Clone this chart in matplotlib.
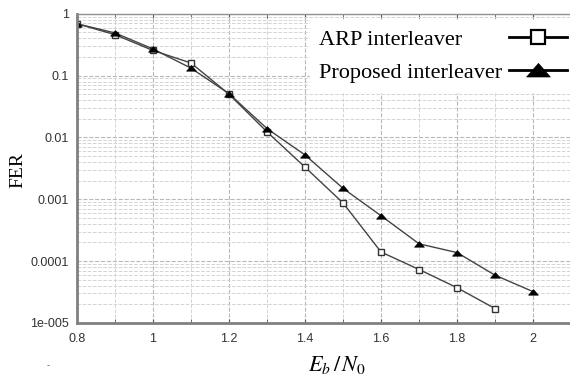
import matplotlib.pyplot as plt
from matplotlib.ticker import FixedLocator, MultipleLocator, LogLocator, NullFormatter

# Eb/N0 values and frame error rates
ebn0_arp = [0.8, 0.9, 1.0, 1.1, 1.2, 1.3, 1.4, 1.5, 1.6, 1.7, 1.8, 1.9]
fer_arp = [0.69, 0.46, 0.255, 0.16, 0.050, 0.0123, 0.0033, 0.00087,
           0.00014, 7.3e-5, 3.7e-5, 1.7e-5]

ebn0_prop = [0.8, 0.9, 1.0, 1.1, 1.2, 1.3, 1.4, 1.5, 1.6, 1.7, 1.8, 1.9, 2.0]
fer_prop = [0.69, 0.49, 0.27, 0.132, 0.051, 0.0139, 0.0052, 0.0015,
            0.00054, 0.00019, 0.000137, 5.9e-5, 3.2e-5]

ytick_vals = [1, 0.1, 0.01, 0.001, 0.0001, 1e-5]
ytick_labels = ["1", "0.1", "0.01", "0.001", "0.0001", "1e-005"]
xtick_vals = [0.8, 1.0, 1.2, 1.4, 1.6, 1.8, 2.0]
xtick_labels = ["0.8", "1", "1.2", "1.4", "1.6", "1.8", "2"]

plt.rcParams['mathtext.fontset'] = 'stix'

# slightly flattened triangle, like the original
flat_tri = [(-1, -0.55), (1, -0.55), (0, 0.6), (-1, -0.55)]

fig = plt.figure(figsize=(5.7, 3.83), dpi=100)
ax = fig.add_axes([0.135, 0.157, 0.867, 0.807])

ax.plot(ebn0_arp, fer_arp, color="#444444", lw=1, marker="s", ms=5,
        mfc="white", mec="#333333", mew=1, label="ARP interleaver")
ax.plot(ebn0_prop, fer_prop, color="#444444", lw=1, marker=flat_tri, ms=7,
        mfc="black", mec="black", mew=0.5, label="Proposed interleaver")

ax.set_yscale("log")
ax.set_xlim(0.8, 2.1)
ax.set_ylim(1e-5, 1)

ax.yaxis.set_major_locator(FixedLocator(ytick_vals))
ax.set_yticklabels(ytick_labels)
ax.yaxis.set_minor_locator(LogLocator(base=10, subs=range(2, 10)))
ax.yaxis.set_minor_formatter(NullFormatter())
ax.set_xticks(xtick_vals)
ax.set_xticklabels(xtick_labels)
ax.xaxis.set_minor_locator(MultipleLocator(0.1))

ax.tick_params(which="both", direction="in", top=True, right=False,
               labelsize=9, labelcolor="#333333", color="#555555")
ax.tick_params(which="major", length=3)
ax.tick_params(which="minor", length=3)
ax.tick_params(axis="y", which="both", length=0, pad=6)
ax.tick_params(axis="x", pad=7)
for lbl in ax.get_xticklabels() + ax.get_yticklabels():
    lbl.set_family("Liberation Sans")

ax.grid(which="major", ls="--", color="#b8b8b8", lw=0.8)
ax.grid(which="minor", ls="--", color="#d4d4d4", lw=0.7)

ax.spines["left"].set_color("#808080")
ax.spines["left"].set_linewidth(2)
ax.spines["bottom"].set_color("#808080")
ax.spines["bottom"].set_linewidth(2)
ax.spines["top"].set_color("#909090")
ax.spines["top"].set_linewidth(1)
ax.spines["right"].set_visible(False)

leg = ax.legend(loc="upper right", bbox_to_anchor=(1.023, 1.0), markerfirst=False,
                prop={"family": "Liberation Serif", "size": 16}, frameon=True,
                fancybox=False, edgecolor="white", framealpha=1,
                handlelength=2.6, labelspacing=0.55,
                borderaxespad=0.3, borderpad=0.4, handletextpad=0.3)
for line, ms in zip(leg.get_lines(), [10, 17]):
    line.set_color("black")
    line.set_linewidth(2)
    line.set_markeredgecolor("black")
    line.set_markersize(ms)
leg.get_lines()[0].set_markeredgewidth(1.6)
# text left-aligned, handles right-aligned (two-column look)
for col in leg._legend_handle_box.get_children():
    for item in col.get_children():
        item.width = 248
        item.mode = "expand"

fig.text(0.032, 0.556, "FER", rotation=90, ha="center", va="center",
         family="Liberation Serif", fontsize=14)
fig.text(0.591, 0.047, r"$E_b\,/\,N_0$", ha="center", va="center", fontsize=16)
fig.text(0.084, 0.045, "-", ha="center", va="center", fontsize=6, color="#555555")

fig.savefig("out.png", dpi=100)
